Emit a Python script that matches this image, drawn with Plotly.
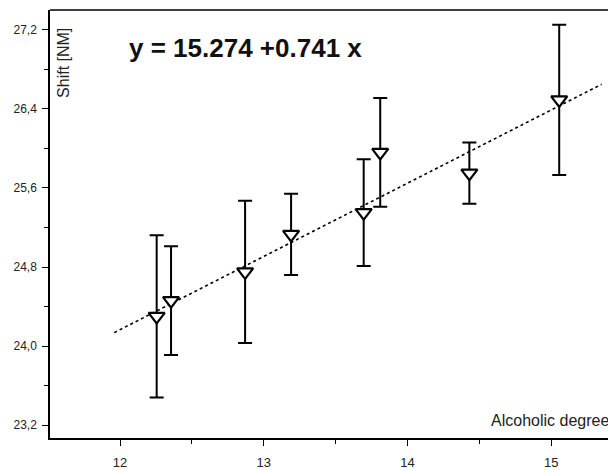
import plotly.graph_objects as go

# Data
alc_degree = [12.255, 12.355, 12.87, 13.19, 13.695, 13.81, 14.43, 15.055]
shift_nm = [24.30, 24.46, 24.75, 25.13, 25.35, 25.96, 25.75, 26.49]
shift_err = [0.82, 0.55, 0.72, 0.41, 0.54, 0.55, 0.31, 0.76]

fit_x = [11.96, 15.35]
fit_intercept = 15.274
fit_slope = 0.741
fit_y = [fit_intercept + fit_slope * v for v in fit_x]

x_ticks = [12, 13, 14, 15]
y_ticks = [23.2, 24.0, 24.8, 25.6, 26.4, 27.2]

font_family = "Liberation Sans, Arial, sans-serif"

# page body has an 8px margin: figure is 608x462, offset by 8px
OFF = 8
L, T, B = 50 - OFF, 10 - OFF, 30
W, H = 616 - OFF, 470 - OFF
PW, PH = W - L, H - T - B


def px(xp):  # page x pixel -> paper x
    return (xp - OFF - L) / PW


def py(yp):  # page y pixel -> paper y
    return (H - B - (yp - OFF)) / PH


fig = go.Figure()

fig.add_trace(go.Scatter(
    x=fit_x, y=fit_y, mode="lines",
    line=dict(color="black", width=1.6, dash="dot"),
    showlegend=False, hoverinfo="skip",
))

fig.add_trace(go.Scatter(
    x=alc_degree, y=shift_nm, mode="markers",
    marker=dict(symbol="triangle-down", size=14, color="white",
                line=dict(color="black", width=2.2)),
    error_y=dict(type="data", array=shift_err, visible=True,
                 color="black", thickness=2, width=7),
    showlegend=False,
))

axis_common = dict(
    showgrid=False, zeroline=False,
    showline=True, linecolor="black", linewidth=1.5,
    ticks="outside", ticklen=6, tickwidth=1.3, tickcolor="black",
)

fig.update_xaxes(
    range=[11.513, 15.45], tickvals=x_ticks, mirror=False,
    ticklabelstandoff=6,
    tickfont=dict(family=font_family, size=13, color="#222"),
    minor=dict(dtick=0.5, tick0=11.5, ticks="outside", ticklen=4,
               tickwidth=1.2, tickcolor="black"),
    **axis_common,
)
fig.update_yaxes(
    range=[23.07, 27.40], tickvals=y_ticks, tickformat=".1f",
    ticklabelstandoff=3,
    tickfont=dict(family=font_family, size=12, color="#222"),
    minor=dict(dtick=0.4, tick0=23.2, ticks="outside", ticklen=4,
               tickwidth=1.2, tickcolor="black"),
    **axis_common,
)

# top border line
fig.add_shape(type="line", xref="paper", yref="paper", x0=0, x1=1, y0=1, y1=1,
              line=dict(color="black", width=1.5))

fig.add_annotation(
    text="<b>y = 15.274 +0.741 x</b>", xref="paper", yref="paper",
    x=px(127), y=py(48), xanchor="left", yanchor="middle",
    showarrow=False, font=dict(family=font_family, size=26, color="#111"),
)
fig.add_annotation(
    text="Shift [NM]", xref="paper", yref="paper",
    x=px(64), y=py(26), xanchor="center", yanchor="top",
    textangle=-90, showarrow=False,
    font=dict(family=font_family, size=16, color="#222"),
)
fig.add_annotation(
    text="Alcoholic degree", xref="paper", yref="paper",
    x=px(611), y=py(422), xanchor="right", yanchor="middle",
    showarrow=False, font=dict(family=font_family, size=16, color="#222"),
)

fig.update_layout(
    width=W, height=H,
    margin=dict(l=L, r=0, t=T, b=B, pad=0),
    plot_bgcolor="white", paper_bgcolor="white",
    separators=",.",
)

fig.write_html("out.html")
